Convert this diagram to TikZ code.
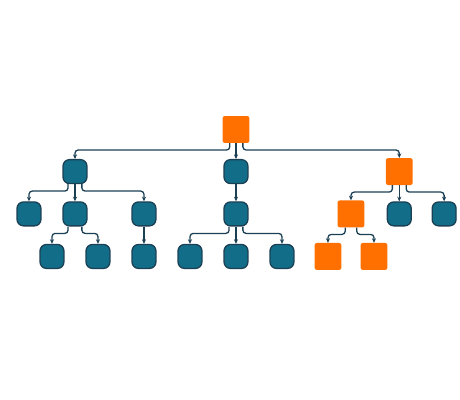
\documentclass[tikz,border=0pt]{standalone}
\usetikzlibrary{arrows.meta, positioning}
\definecolor{tealnode}{HTML}{116D88}
\definecolor{tealline}{HTML}{1B4054}
\definecolor{orangenode}{HTML}{FF7000}
\tikzset{
  leaf/.style={draw=tealline, line width=1.6pt, fill=tealnode, rounded corners=0.28cm,
    minimum size=1.04cm, inner sep=0pt},
  hot/.style={fill=orangenode, rounded corners=0.1cm, minimum size=1.17cm, inner sep=0pt},
  edge/.style={draw=tealline, line width=1.6pt, rounded corners=0.14cm,
    -{Stealth[length=2mm, width=1.8mm]}},
}
\begin{document}
\begin{tikzpicture}
  \useasboundingbox (-1.26,5.63) rectangle (18.74,-11.76);

  % top
  \node[hot] (root) at (9,0) {};

  % level 1
  \node[leaf] (a) at (2,-1.83) {};
  \node[leaf] (b) at (9,-1.83) {};
  \node[hot]  (c) at (16.1,-1.83) {};

  % level 2
  \node[leaf] (a1) at (0,-3.67) {};
  \node[leaf] (a2) at (2,-3.67) {};
  \node[leaf] (a3) at (5,-3.67) {};
  \node[leaf] (b1) at (9,-3.67) {};
  \node[hot]  (c1) at (14,-3.67) {};
  \node[leaf] (c2) at (16.1,-3.67) {};
  \node[leaf] (c3) at (18.05,-3.67) {};

  % level 3
  \node[leaf] (a21) at (1,-5.52) {};
  \node[leaf] (a22) at (3,-5.52) {};
  \node[leaf] (a31) at (5,-5.52) {};
  \node[leaf] (b11) at (7,-5.52) {};
  \node[leaf] (b12) at (9,-5.52) {};
  \node[leaf] (b13) at (11,-5.52) {};
  \node[hot]  (c11) at (13,-5.52) {};
  \node[hot]  (c12) at (15,-5.52) {};

  % elbow connectors
  \foreach \p/\q/\o in {root/a/-0.27, root/c/0.3, a/a1/-0.3, a/a3/0.3,
      a2/a21/-0.3, a2/a22/0.3, b1/b11/-0.3, b1/b13/0.3,
      c/c1/-0.3, c/c3/0.3, c1/c11/-0.25, c1/c12/0.25}
    \draw[edge] ([xshift=\o cm]\p.south) -- ++(0,-0.3) -| (\q.north);

  % straight ones
  \foreach \p/\q in {root/b, a/a2, a3/a31, b/b1, b1/b12, c/c2}
    \draw[edge] (\p.south) -- (\q.north);
\end{tikzpicture}
\end{document}
